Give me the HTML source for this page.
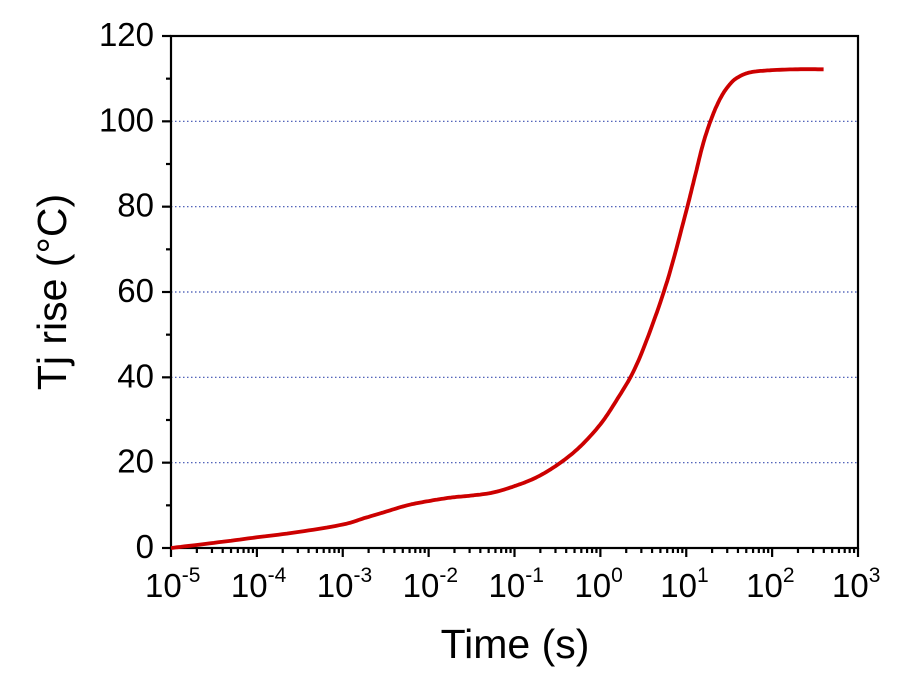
<!DOCTYPE html>
<html><head><meta charset="utf-8"><style>
body{margin:0;background:#fff;}
text{font-family:"Liberation Sans",Arial,sans-serif;fill:#000;}
</style></head><body>
<svg width="898" height="683" viewBox="0 0 898 683" xmlns="http://www.w3.org/2000/svg">
<g id="grid" stroke="#3b4fb0" stroke-width="1.2" stroke-dasharray="1.5,2.5"></g>
<rect x="171" y="36" width="687" height="512" fill="none" stroke="#000" stroke-width="2.2"/>
<g id="ticks" stroke="#000" stroke-width="2.2"></g>
<g id="labels" font-size="33"></g>
<path id="curve" fill="none" stroke="#cc0000" stroke-width="3.8" stroke-linejoin="round"/>
<text x="515" y="658" font-size="41" text-anchor="middle">Time (s)</text>
<text transform="translate(66,292) rotate(-90)" font-size="41" text-anchor="middle">Tj rise (°C)</text>
</svg>
<script>
const L=171,R=858,T=36,B=548,D=(R-L)/8;
const X=l=>L+(l+5)*D, Y=v=>B-v*(B-T)/120;
const ns="http://www.w3.org/2000/svg";
function el(p,t,a,txt){const e=document.createElementNS(ns,t);for(const k in a)e.setAttribute(k,a[k]);if(txt!==undefined)e.textContent=txt;document.getElementById(p).appendChild(e);return e;}
for(let v=20;v<=100;v+=20)el("grid","line",{x1:L,x2:R,y1:Y(v),y2:Y(v)});
for(let v=0;v<=120;v+=10){const maj=v%20==0;el("ticks","line",{x1:L-(maj?9:5),x2:L,y1:Y(v),y2:Y(v)});
 if(maj)el("labels","text",{x:154,y:Y(v)+10,"text-anchor":"end"},String(v));}
for(let d=-5;d<=3;d++){el("ticks","line",{x1:X(d),x2:X(d),y1:B,y2:B+9});
 if(d<3)for(let m=2;m<=9;m++){const x=X(d+Math.log10(m));el("ticks","line",{x1:x,x2:x,y1:B,y2:B+5});}
 const t=el("labels","text",{x:X(d)-26,y:597});
 t.innerHTML='10<tspan dy="-15" font-size="21">'+d+'</tspan>';}
const P=[[-5,0],[-4.5,1.2],[-4,2.5],[-3.5,3.8],[-3,5.5],[-2.75,7],[-2.5,8.5],[-2.25,10],[-2,11],[-1.75,11.8],[-1.5,12.3],[-1.25,13],[-1,14.5],[-0.75,16.5],[-0.5,19.5],[-0.25,23.5],[0,29],[0.2,35],[0.4,42],[0.6,52],[0.8,64],[1,79],[1.1,87],[1.2,95],[1.3,101],[1.4,105.5],[1.5,108.5],[1.6,110.3],[1.75,111.5],[2,112],[2.3,112.2],[2.6,112.2]];
let d="";
for(let i=0;i<P.length-1;i++){const p0=P[Math.max(i-1,0)],p1=P[i],p2=P[i+1],p3=P[Math.min(i+2,P.length-1)];
 for(let s=0;s<10;s++){const t=s/10,t2=t*t,t3=t2*t;
  const f=(a,b,c,e)=>0.5*(2*b+(-a+c)*t+(2*a-5*b+4*c-e)*t2+(-a+3*b-3*c+e)*t3);
  const x=X(f(p0[0],p1[0],p2[0],p3[0])),y=Y(f(p0[1],p1[1],p2[1],p3[1]));
  d+=(d?"L":"M")+x.toFixed(1)+","+y.toFixed(1);}}
d+="L"+X(2.6).toFixed(1)+","+Y(112.2).toFixed(1);
document.getElementById("curve").setAttribute("d",d);
</script>
</body></html>
